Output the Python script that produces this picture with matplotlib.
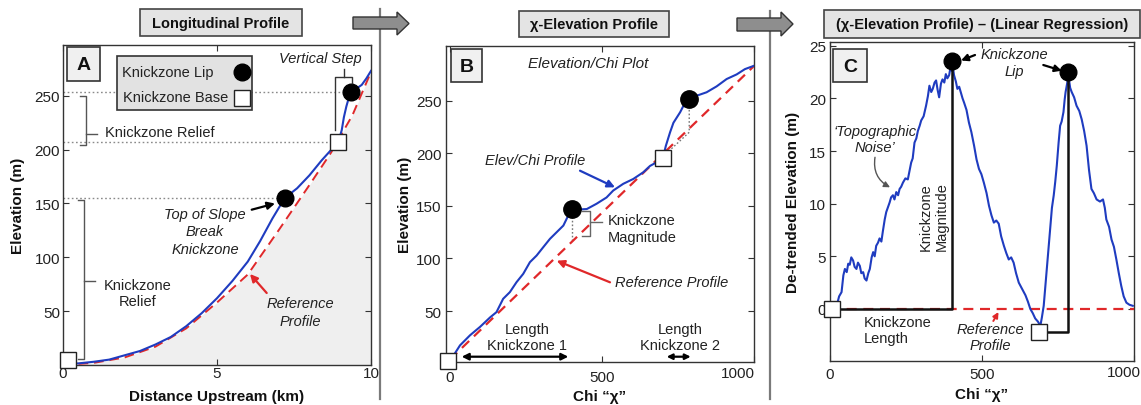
import matplotlib
matplotlib.use('Agg')
import matplotlib.pyplot as plt
from matplotlib.patches import Rectangle, Polygon, FancyArrowPatch
from matplotlib.transforms import Affine2D

plt.rcParams['font.family'] = ['Liberation Sans', 'DejaVu Sans']

# ---------------- data ----------------
# Panel A : longitudinal profile
dist_km = [0.0, 0.5, 1.0, 1.5, 2.0, 2.5, 3.0, 3.5, 4.0, 4.5, 5.0, 5.5, 6.0, 6.4, 6.8, 7.2,
           7.6, 8.0, 8.4, 8.78, 8.94, 9.05, 9.12, 9.2, 9.28, 9.35, 9.5, 9.7, 9.85, 10.0]
elev_A = [1, 1.5, 3, 5, 9, 13, 19, 26, 36, 48, 62, 78, 96, 115, 136, 155,
          164, 176, 190, 202, 207, 218, 230, 240, 248, 253, 256, 260, 266, 273]
ref_dist_km = [0, 1, 2, 3, 4, 5, 6, 7, 8, 8.7, 9.4, 10]
ref_elev_A = [0, 2, 7, 17, 34, 58, 84, 125, 167, 197, 232, 272]
lip_A_x = [7.2, 9.35]
lip_A_y = [155, 253]
base_A_x = [0.15, 8.94]
base_A_y = [4.5, 207]

# Panel B : chi-elevation profile
chi_B = [5, 33, 66, 99, 132, 153, 175, 197, 219, 241, 263, 285, 307, 329, 351, 373, 389, 400,
         417, 450, 482, 515, 537, 570, 603, 636, 658, 680, 700, 710, 724, 735, 757, 773, 789,
         811, 844, 877, 910, 943, 970, 998]
elev_B = [4.7, 17.4, 27, 35, 44, 49, 61.7, 68, 77.5, 85.4, 96.5, 102.8, 110.8, 118.7, 125,
          131.3, 140.8, 147, 146.5, 147, 152, 158, 164.6, 171, 175.6, 182, 188, 191.5, 195,
          207, 220, 229, 239, 248, 252, 254.7, 258, 263.6, 270.6, 275, 280, 283]
ref_chi_B = [0, 1000]
ref_elev_B = [4, 283]
lip_B_x = [400, 787]
lip_B_y = [147.5, 252]
base_B_x = [-5, 700]
base_B_y = [3, 195.5]

# Panel C : detrended chi-elevation
chi_C = [5, 14, 22, 30, 38, 44, 49, 55, 60, 65, 70, 76, 81, 87, 92, 98, 103, 109, 114, 120,
         126, 131, 137, 142, 147, 152, 158, 163, 169, 174, 180, 185, 190, 196, 201, 207, 212,
         218, 224, 229, 234, 240, 248, 256, 262, 267, 272, 278, 284, 289, 295, 300, 308, 316,
         322, 327, 333, 338, 344, 349, 354, 359, 365, 370, 376, 381, 386, 392, 396, 401, 405,
         408, 414, 419, 425, 430, 436, 441, 449, 457, 465, 474, 482, 490, 498, 506, 515, 523,
         531, 539, 547, 555, 563, 572, 580, 588, 596, 604, 612, 621, 632, 643, 651, 659, 667,
         675, 684, 692, 697, 703, 708, 714, 720, 725, 730, 736, 741, 746, 752, 757, 762, 768,
         772, 775, 780, 784, 790, 795, 803, 811, 820, 828, 836, 844, 852, 860, 868, 877, 888,
         898, 904, 909, 918, 926, 934, 942, 950, 958, 966, 975, 985, 996]
val_C = [0.0, 0.6, 0.3, 1.2, 1.6, 3.2, 3.8, 3.5, 4.3, 4.2, 4.9, 4.6, 4.0, 3.8, 4.4, 4.1, 3.4,
         3.5, 2.9, 2.7, 3.4, 3.8, 4.9, 5.4, 5.0, 6.0, 6.3, 6.7, 6.4, 7.4, 8.5, 9.2, 9.6, 10.1,
         10.6, 10.8, 10.4, 11.1, 10.8, 11.4, 11.6, 12.0, 12.4, 12.3, 13.2, 13.9, 14.3, 15.8,
         16.2, 16.9, 17.4, 17.9, 18.3, 19.3, 20.2, 21.2, 20.6, 20.9, 21.5, 21.7, 20.8, 20.1,
         21.4, 21.8, 21.5, 22.3, 21.9, 22.2, 22.9, 22.6, 22.8, 22.2, 21.6, 20.9, 21.1, 20.6,
         20.0, 19.6, 18.9, 17.7, 16.8, 15.5, 14.2, 13.3, 12.8, 12.0, 11.0, 9.8, 8.9, 8.2, 8.4,
         8.1, 6.9, 6.0, 5.3, 4.7, 4.9, 4.4, 3.4, 2.5, 1.9, 1.3, 0.7, 0.0, -0.4, -0.9, -1.2,
         -1.6, -0.8, 0.3, 2.0, 4.1, 6.2, 7.9, 9.6, 10.8, 12.1, 13.6, 15.8, 17.4, 17.8, 18.7,
         19.9, 20.6, 21.4, 22.2, 21.0, 20.6, 20.1, 19.3, 18.8, 18.0, 16.9, 15.5, 13.2, 11.4,
         11.0, 10.4, 10.2, 10.4, 9.6, 8.5, 7.8, 6.6, 5.9, 4.7, 3.4, 2.2, 1.2, 0.6, 0.4, 0.3]
ref_chi_C = [0, 1000]
ref_val_C = [0, 0]
lip_C_x = [401, 784]
lip_C_y = [23.5, 22.5]
base_C_x = [5, 686]
base_C_y = [0, -2.2]

# ---------------- styling helpers ----------------
BLUE = '#1f3cc0'
RED = '#e0282a'
GRAY_TXT = '#222222'
W, H = 1141, 406
fig = plt.figure(figsize=(W / 100, H / 100), dpi=100)
pix = Affine2D().scale(1 / W, -1 / H).translate(0, 1) + fig.transFigure


def add_ax(l, t, r, b):
    return fig.add_axes([l / W, 1 - b / H, (r - l) / W, (b - t) / H])


def style(ax, xpad=2, ypad=2):
    for s in ax.spines.values():
        s.set_color('#333333')
        s.set_linewidth(1.0)
    ax.tick_params(direction='in', length=4, width=0.8, top=True, right=True,
                   labelsize=11, color='#333333', labelcolor='#222222')
    ax.tick_params(axis='x', pad=xpad)
    ax.tick_params(axis='y', pad=ypad)


def ptext(x, y, s, **kw):
    kw.setdefault('fontsize', 10.5)
    kw.setdefault('color', GRAY_TXT)
    kw.setdefault('ha', 'center')
    kw.setdefault('va', 'center')
    fig.text(x / W, 1 - y / H, s, **kw)


def pline(xs, ys, **kw):
    kw.setdefault('zorder', 5)
    fig.add_artist(plt.Line2D(xs, ys, transform=pix, **kw))


def parrow(x0, y0, x1, y1, color='k', style='-|>', lw=1.5, ms=12, conn='arc3'):
    fig.add_artist(FancyArrowPatch((x0, y0), (x1, y1), transform=pix, arrowstyle=style,
                                   color=color, lw=lw, mutation_scale=ms, shrinkA=0,
                                   shrinkB=0, connectionstyle=conn, zorder=7))


def label_box(l, t, r, b, s):
    fig.add_artist(Rectangle((l, t), r - l, b - t, transform=pix, fc='#f0f0f0',
                             ec='#333333', lw=1.2, zorder=5))
    ptext((l + r) / 2, (t + b) / 2 + 1, s, fontsize=14, fontweight='bold', color='#111111',
          zorder=6)


def header(l, t, r, b, s):
    fig.add_artist(Rectangle((l, t), r - l, b - t, transform=pix, fc='#e4e4e4',
                             ec='#444444', lw=1.2, zorder=5))
    ptext((l + r) / 2, (t + b) / 2 + 0.5, s, fontsize=10.5, fontweight='bold',
          color='#111111', zorder=6)


def block_arrow(x0, xh, xt, ys0, ys1, yh0, yh1):
    yc = (yh0 + yh1) / 2
    verts = [(x0, ys0), (xh, ys0), (xh, yh0), (xt, yc), (xh, yh1), (xh, ys1), (x0, ys1)]
    fig.add_artist(Polygon(verts, closed=True, transform=pix, fc='#8e8e8e',
                           ec='#333333', lw=1.0, zorder=5))


# ---------------- Panel A ----------------
axA = add_ax(63, 46, 371, 366)
axA.fill_between(ref_dist_km, ref_elev_A, 0, color='#efefef', zorder=0, lw=0)
axA.plot(ref_dist_km, ref_elev_A, color=RED, lw=1.4, dashes=(5, 3), zorder=3)
axA.plot(dist_km, elev_A, color=BLUE, lw=1.5, zorder=4)
for yv, xv in [(lip_A_y[1], lip_A_x[1]), (base_A_y[1], base_A_x[1]), (lip_A_y[0], lip_A_x[0])]:
    axA.plot([0, xv], [yv, yv], color='#8a8a8a', lw=1, ls=(0, (1.2, 1.8)), zorder=1)
axA.plot(lip_A_x, lip_A_y, 'o', color='k', ms=12, zorder=6)
axA.plot(base_A_x, base_A_y, 's', mfc='white', mec='#222222', mew=1.0, ms=11, zorder=6,
         clip_on=False)
axA.set_xlim(0, 10)
axA.set_ylim(0, 297)
axA.set_xticks([0, 5, 10])
axA.set_yticks([50, 100, 150, 200, 250])
style(axA, xpad=1, ypad=2)
axA.set_xlabel('Distance Upstream (km)', fontsize=11, fontweight='bold', color='#111111')
axA.set_ylabel('Elevation (m)', fontsize=11, fontweight='bold', color='#111111')
axA.xaxis.set_label_coords(0.5, -0.075)
axA.yaxis.set_label_coords(-0.123, 0.5)

label_box(67, 48, 100, 82, 'A')
fig.add_artist(Rectangle((117, 57), 135, 54, transform=pix, fc='#e2e2e2', ec='#333333',
                         lw=1.2, zorder=4))
ptext(122, 73, 'Knickzone Lip', ha='left', zorder=6)
ptext(123, 98.5, 'Knickzone Base', ha='left', zorder=6)
fig.add_artist(plt.Line2D([241.7], [73.3], transform=pix, marker='o', color='k', ms=12,
                          zorder=6))
fig.add_artist(plt.Line2D([241.5], [99.3], transform=pix, marker='s', mfc='white',
                          mec='#222222', ms=11, zorder=6))
BR = '#555555'
pline([80, 86, 86, 80], [96.7, 96.7, 146, 146], color=BR, lw=1)
pline([86, 96.5], [135, 135], color=BR, lw=1)
ptext(105, 133, 'Knickzone Relief', ha='left')
pline([78, 83.5, 83.5, 78], [201, 201, 360, 360], color=BR, lw=1)
pline([83.5, 95], [282, 282], color=BR, lw=1)
ptext(137.5, 294, 'Knickzone\nRelief', linespacing=1.25)
pline([335, 335, 351.5, 351.5], [131, 78, 78, 84], color='#333333', lw=1)
pline([344, 344], [78, 69.5], color='#333333', lw=1)
ptext(320, 59.5, 'Vertical Step', style='italic')
ptext(205, 232.5, 'Top of Slope\nBreak\nKnickzone', style='italic', linespacing=1.3)
parrow(251.7, 210.7, 275, 204.5, color='k', lw=1.6, ms=11)
ptext(300, 313, 'Reference\nProfile', style='italic', linespacing=1.3)
parrow(266.7, 294, 250, 275, color=RED, lw=1.6, ms=11)

# ---------------- Panel B ----------------
axB = add_ax(446, 47, 754, 363)
axB.plot(ref_chi_B, ref_elev_B, color=RED, lw=1.6, dashes=(4.5, 3), zorder=3)
axB.plot(chi_B, elev_B, color=BLUE, lw=1.5, zorder=4)
axB.plot([lip_B_x[0], lip_B_x[0]], [lip_B_y[0], 117], color='#777777', lw=1,
         ls=(0, (1.2, 1.5)), zorder=2)
axB.plot([lip_B_x[1], lip_B_x[1], 716], [lip_B_y[1], 220, 201], color='#777777', lw=1,
         ls=(0, (1.2, 1.5)), zorder=2)
axB.plot(lip_B_x, lip_B_y, 'o', color='k', ms=12.5, zorder=6)
axB.plot(base_B_x, base_B_y, 's', mfc='white', mec='#222222', mew=1.0, ms=11.5, zorder=6,
         clip_on=False)
axB.set_xlim(-13, 1000)
axB.set_ylim(1.6, 302)
axB.set_xticks([0, 500, 1000])
axB.set_xticklabels(['0', '500', ''])
axB.set_yticks([50, 100, 150, 200, 250])
style(axB, xpad=6, ypad=3)
axB.set_xlabel('Chi \u201c\u03c7\u201d', fontsize=11, fontweight='bold', color='#111111')
axB.set_ylabel('Elevation (m)', fontsize=11, fontweight='bold', color='#111111')
axB.xaxis.set_label_coords(0.5, -0.085)
axB.yaxis.set_label_coords(-0.110, 0.5)
ptext(738, 374, '1000', fontsize=11)

label_box(451, 50, 482, 83, 'B')
ptext(588, 63.5, 'Elevation/Chi Plot', style='italic', fontsize=11)
ptext(535, 161, 'Elev/Chi Profile', style='italic')
parrow(580, 171.7, 615, 188.3, color=BLUE, lw=1.6, ms=11)
pline([581.7, 590, 590, 581.7], [211.7, 211.7, 236.7, 236.7], color='#666666', lw=1)
pline([590, 601.7], [223.3, 223.3], color='#666666', lw=1)
ptext(608, 229.5, 'Knickzone\nMagnitude', ha='left', linespacing=1.2)
ptext(615, 282.7, 'Reference Profile', ha='left', style='italic')
parrow(610, 283.3, 556.7, 261.7, color=RED, lw=1.6, ms=11)
ptext(526.7, 338, 'Length\nKnickzone 1', linespacing=1.2)
parrow(461.7, 357.7, 568.3, 357.7, color='k', style='<|-|>', lw=1.6, ms=10)
ptext(680, 338, 'Length\nKnickzone 2', linespacing=1.2)
parrow(666.7, 357.7, 690.7, 357.7, color='k', style='<|-|>', lw=1.6, ms=8)

# ---------------- Panel C ----------------
axC = add_ax(830, 43, 1134, 362)
axC.plot(ref_chi_C, ref_val_C, color=RED, lw=1.6, dashes=(4.5, 3), zorder=3)
axC.plot(chi_C, val_C, color=BLUE, lw=1.5, zorder=4)
for bx, by, lx, ly in zip(base_C_x, base_C_y, lip_C_x, lip_C_y):
    axC.plot([bx, lx, lx], [by, by, ly], color='#111111', lw=1.8, zorder=5)
axC.plot(lip_C_x, lip_C_y, 'o', color='k', ms=12, zorder=6)
axC.plot(base_C_x, base_C_y, 's', mfc='white', mec='#222222', mew=1.0, ms=11, zorder=6,
         clip_on=False)
axC.set_xlim(0, 1000)
axC.set_ylim(-4.94, 25.35)
axC.set_xticks([0, 500, 1000])
axC.set_xticklabels(['0', '500', ''])
axC.set_yticks([0, 5, 10, 15, 20, 25])
style(axC, xpad=4, ypad=3)
axC.set_xlabel('Chi \u201c\u03c7\u201d', fontsize=11, fontweight='bold', color='#111111')
axC.set_ylabel('De-trended Elevation (m)', fontsize=11, fontweight='bold', color='#111111')
axC.xaxis.set_label_coords(0.5, -0.082)
axC.yaxis.set_label_coords(-0.099, 0.5)
ptext(1124, 373, '1000', fontsize=11)

label_box(833, 50, 867, 83, 'C')
ptext(1014, 63.3, 'Knickzone\nLip', style='italic', linespacing=1.25)
parrow(975, 56, 961, 61.5, color='k', lw=1.6, ms=10)
parrow(1043.3, 66, 1061.7, 71.7, color='k', lw=1.6, ms=10)
ptext(875, 140, '\u2018Topographic\nNoise\u2019', style='italic', linespacing=1.2)
parrow(875, 158.3, 890, 188.3, color='#555555', lw=1.0, ms=9, conn='arc3,rad=0.35')
ptext(934, 217, 'Knickzone\nMagnitude', rotation=90, linespacing=1.2)
ptext(864, 331.3, 'Knickzone\nLength', ha='left', linespacing=1.2)
ptext(990, 338.3, 'Reference\nProfile', style='italic', linespacing=1.2)
parrow(993.3, 322, 998.5, 313, color=RED, lw=1.4, ms=8)

# ---------------- header boxes, arrows and separators ----------------
header(140, 10, 302, 37, 'Longitudinal Profile')
header(519, 12, 669, 38, '\u03c7-Elevation Profile')
header(824, 11, 1140, 39, '(\u03c7-Elevation Profile) \u2013 (Linear Regression)')
pline([380, 380], [10, 400], color='#7a7a7a', lw=1.6)
pline([770, 770], [12, 400], color='#7a7a7a', lw=1.6)
block_arrow(353, 397, 409, 18, 30, 13, 36)
block_arrow(737, 781, 793, 19, 32, 13, 37)

fig.savefig('out.png', dpi=100)
